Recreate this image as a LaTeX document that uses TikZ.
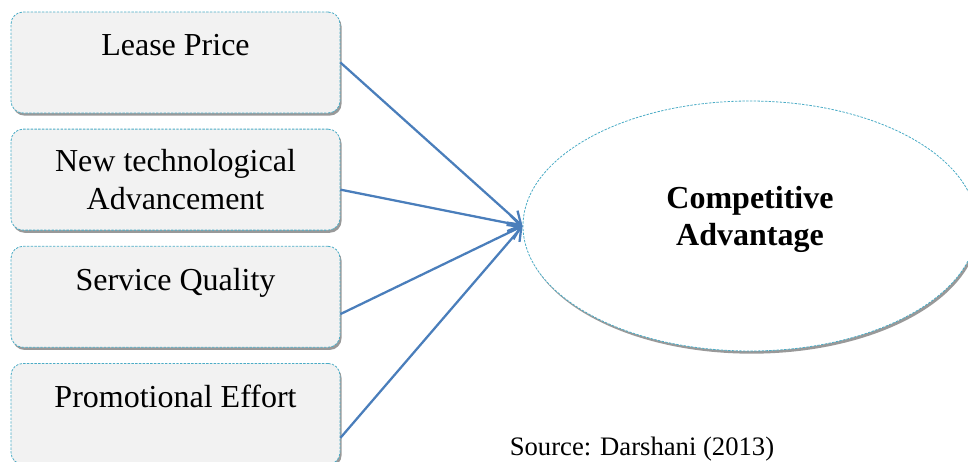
\documentclass[tikz,border=0pt]{standalone}
\usepackage{fontspec}
\setmainfont{Liberation Serif}
\usepackage{tikz}
\usetikzlibrary{positioning}
\usetikzlibrary{shapes.geometric}
\usetikzlibrary{shadows}
\usetikzlibrary{arrows.meta}

\definecolor{boxline}{HTML}{4BACC6}
\definecolor{boxfill}{HTML}{F2F2F2}
\definecolor{arrowblue}{HTML}{4A7EBB}

\begin{document}
\begin{tikzpicture}[x=0.75pt, y=-0.75pt,
                          node distance=11.5pt,
                          factorbox/.style={rectangle, rounded corners=9pt, draw=boxline, dashed, dash pattern=on 1.8pt off 1pt, line width=0.6pt, fill=boxfill, minimum width=246.75pt, minimum height=75.75pt, align=center, font=\fontsize{24}{28}\selectfont, drop shadow={shadow xshift=1.2pt, shadow yshift=-2pt, fill=black!40, opacity=1}},
                          outcomenode/.style={ellipse, draw=boxline, dashed, dash pattern=on 1.8pt off 1pt, line width=0.6pt, fill=white, minimum width=340.5pt, minimum height=187.5pt, align=center, font=\fontsize{24}{28}\selectfont\bfseries, drop shadow={shadow xshift=1.2pt, shadow yshift=-2pt, fill=black!40, opacity=1}},
                          factorarrow/.style={-{Straight Barb[length=9pt, width=12pt]}, draw=arrowblue, line width=1.7pt},
                      ]
                      \clip (0,0) rectangle (968,461);
                      % Nodes
                      \node[factorbox]        (lease)      at (175.5,62.5)         {Lease Price\\[-10.5pt] \strut};
                      \node[factorbox]        (tech)       [below=of lease]        {New technological\\Advancement};
                      \node[factorbox]        (service)    [below=of tech]         {Service Quality\\[-10.5pt] \strut};
                      \node[factorbox]        (promo)      [below=of service]      {Promotional Effort\\[-10.5pt] \strut};

                      \node[outcomenode]      (advantage)  at (750,226)            {Competitive\\Advantage\\[-21pt]\strut};

                      \node[font=\fontsize{20}{24}\selectfont] (source) at (642,449) {Source: Darshani (2013)};

                      %Lines
                      \draw[factorarrow] (lease.east) -- (advantage.west);
                      \draw[factorarrow] ([yshift=-7.5pt]tech.east) -- (advantage.west);
                      \draw[factorarrow] ([yshift=-13pt]service.east) -- (advantage.west);
                      \draw[factorarrow] ([yshift=-18pt]promo.east) -- (advantage.west);
                  \end{tikzpicture}
\end{document}
